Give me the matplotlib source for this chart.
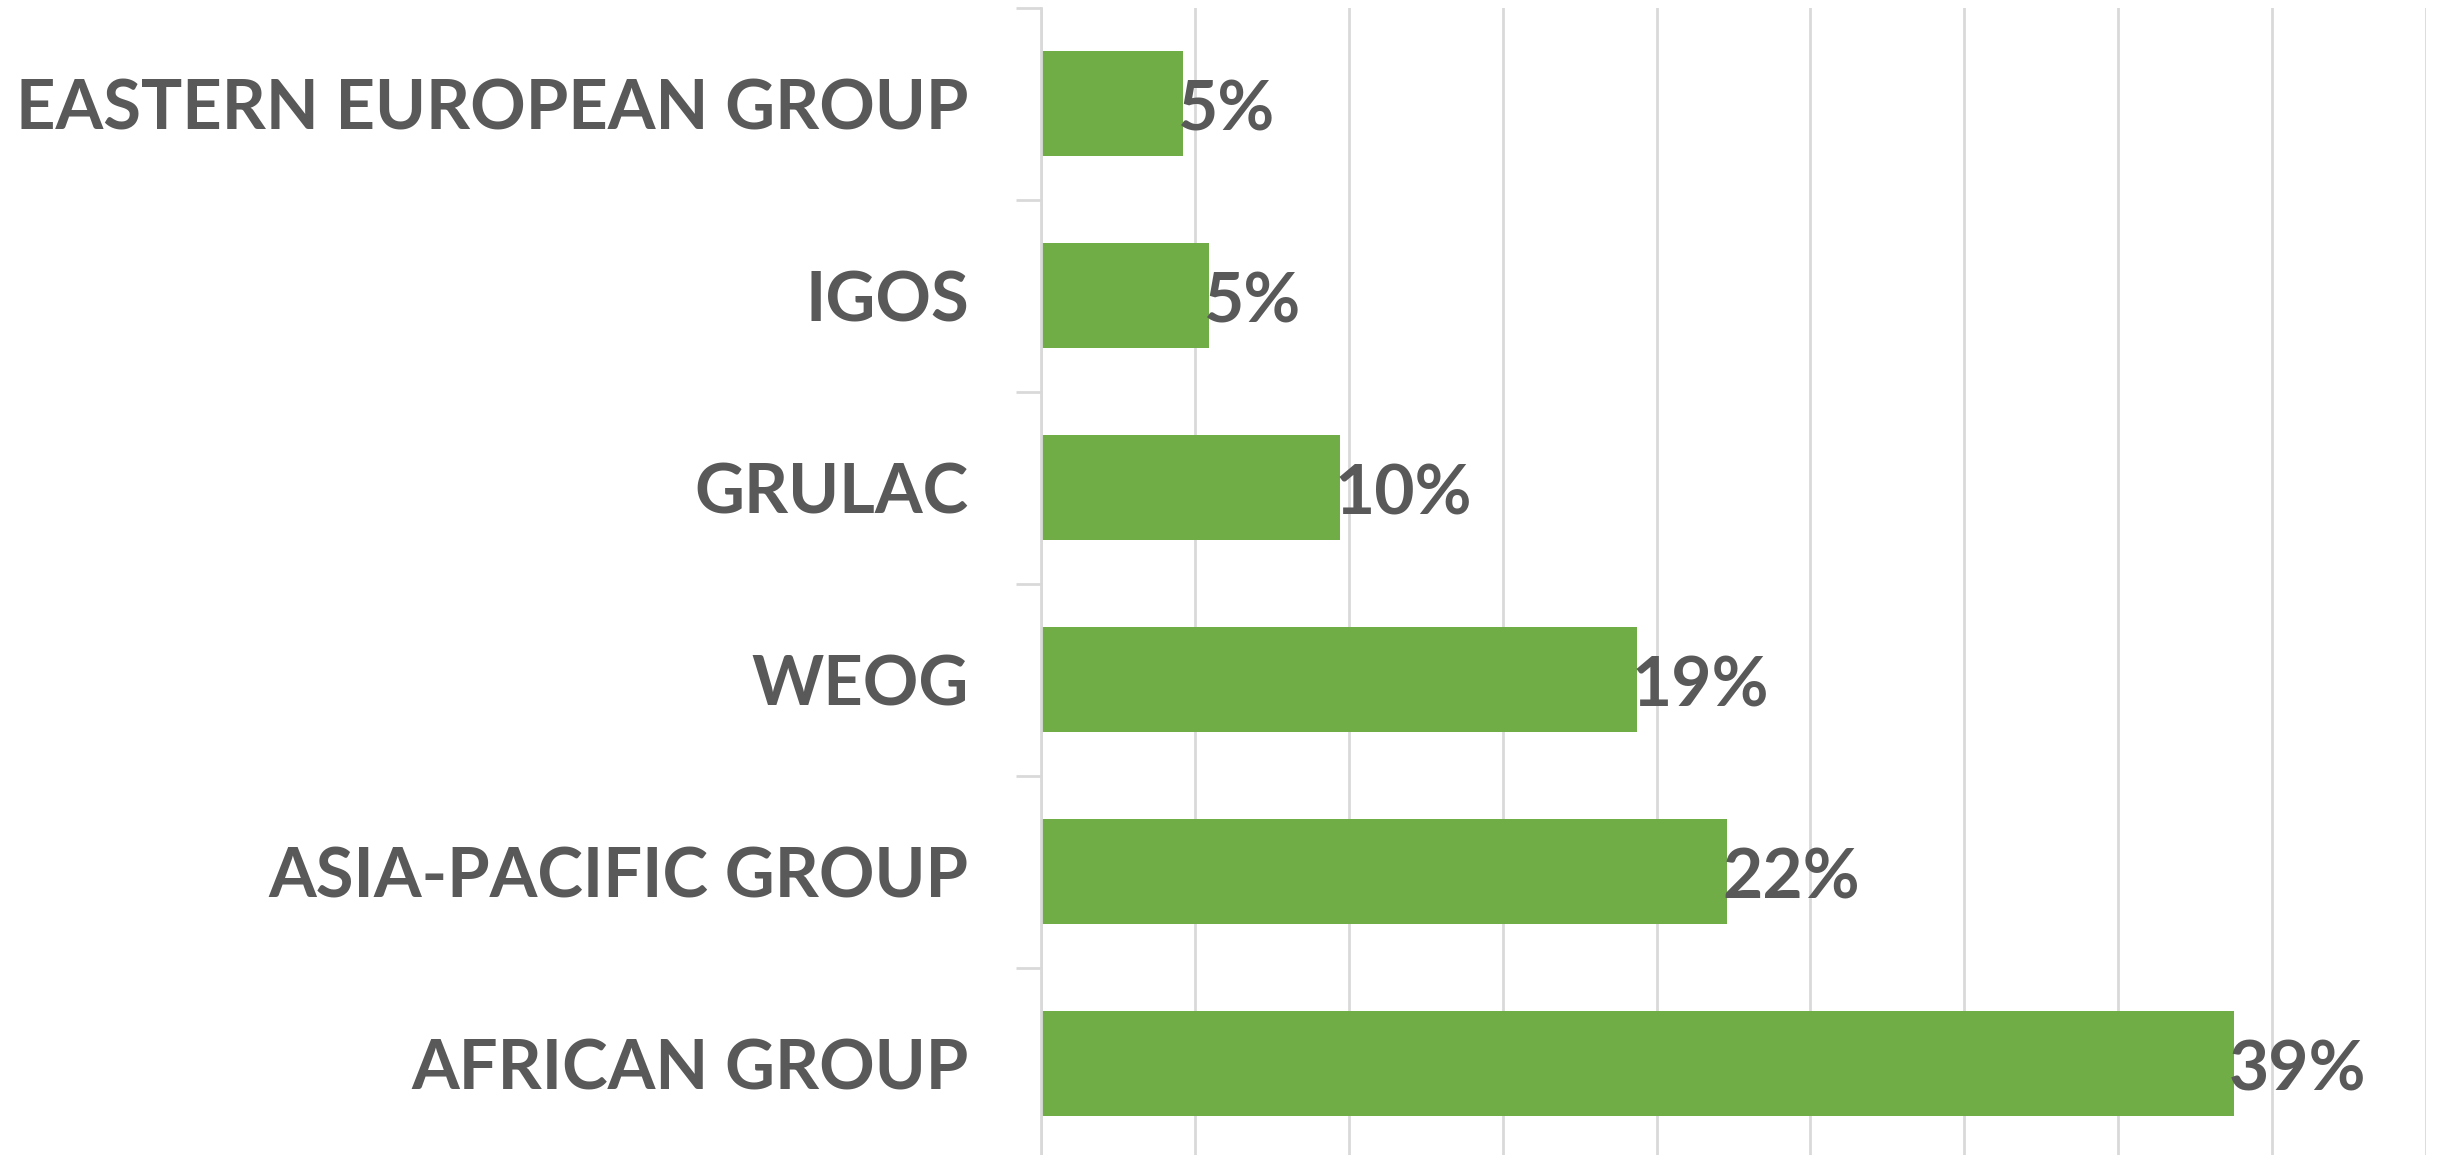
import numpy as np
import matplotlib.pyplot as plt

# regional groups, bottom to top as drawn
groups = [
    "AFRICAN GROUP",
    "ASIA-PACIFIC GROUP",
    "WEOG",
    "GRULAC",
    "IGOS",
    "EASTERN EUROPEAN GROUP",
]
shares = [38.75, 22.3, 19.35, 9.7, 5.45, 4.6]
x_ticks = np.arange(0, 50, 5)

bar_color = "#70AD47"
text_color = "#595959"
grid_color = "#D9D9D9"

fig = plt.figure(figsize=(24.45, 11.55), dpi=100)
ax = fig.add_axes([0.4258, -0.004, 0.5664, 0.9975])

y = np.arange(len(groups))
ax.barh(y, shares, height=0.55, color=bar_color, zorder=2)

# value labels sit right on the bar end
for yi, v in zip(y, shares):
    ax.text(v - 0.15, yi - 0.04, f"{v:.0f}%", ha="left", va="center",
            fontsize=50, fontweight="bold", color=text_color,
            family="Lato", zorder=3)

ax.set_xlim(0, 45)
ax.set_ylim(-0.5, len(groups) - 0.5)
ax.set_xticks(x_ticks)
ax.set_xticklabels([])
ax.tick_params(axis="x", length=0)
ax.grid(axis="x", color=grid_color, linewidth=2, zorder=0)

# category labels between boundary ticks
ax.set_yticks(y)
ax.set_yticklabels(groups, fontsize=49.5, fontweight="bold", color=text_color,
                   family="Lato")
ax.set_yticks(np.arange(-0.5, len(groups)), minor=True)
ax.tick_params(axis="y", which="major", length=0, pad=52)
ax.tick_params(axis="y", which="minor", length=18, width=2, color=grid_color)

for side in ["top", "right", "bottom"]:
    ax.spines[side].set_visible(False)
ax.spines["left"].set_color(grid_color)
ax.spines["left"].set_linewidth(2)

fig.savefig("out.png", dpi=100)
